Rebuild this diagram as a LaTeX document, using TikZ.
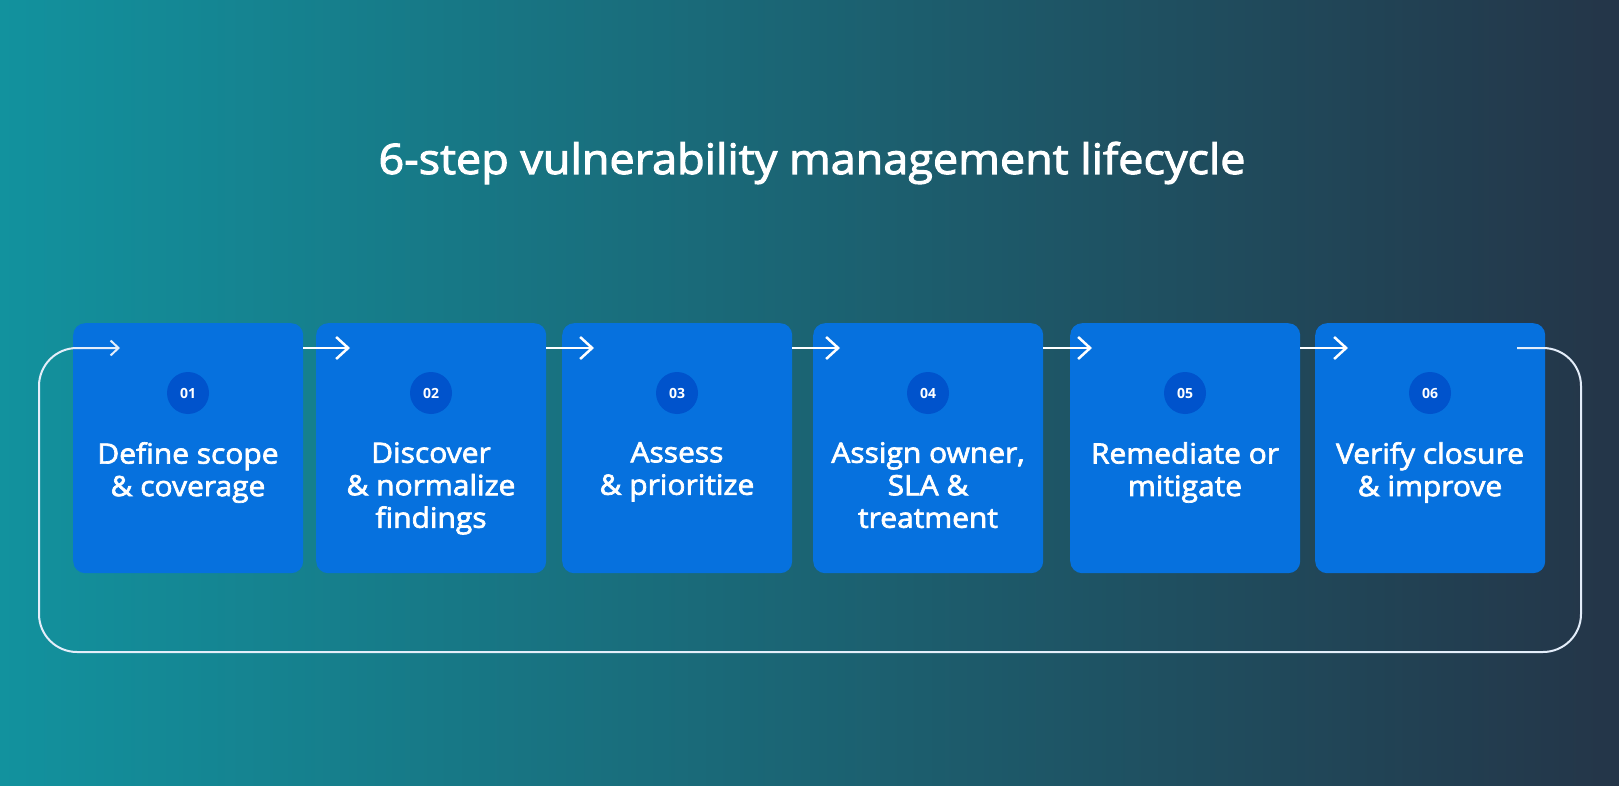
\documentclass[tikz,border=0pt]{standalone}
\usepackage{fontspec}
\setmainfont{Open Sans}
\newfontfamily\stepfont[FakeBold=2.5, FakeStretch=1.07]{Open Sans}
\usetikzlibrary{arrows.meta}

\definecolor{bgteal}{HTML}{12929E}
\definecolor{bgmid}{HTML}{16608A}
\definecolor{bgnavy}{HTML}{243548}
\definecolor{stepblue}{HTML}{0671DE}
\definecolor{badgeblue}{HTML}{0053CC}
\definecolor{cyclecol}{HTML}{E4EEFA}

\tikzset{
  stepbox/.style={fill=stepblue, rounded corners=12pt, minimum width=230pt, minimum height=250pt, inner sep=0pt, anchor=north west},
  badge/.style={circle, fill=badgeblue, minimum size=42pt, inner sep=0pt, text=white, font=\fontsize{14}{14}\selectfont\bfseries},
  steptext/.style={anchor=north, align=center, inner sep=0pt, text=white, font=\stepfont\fontsize{28}{32.5}\selectfont},
  flow/.style={draw=white, line width=2.5pt, -{Straight Barb[length=12pt,width=22pt,line width=2.5pt]}},
  cycleline/.style={draw=cyclecol, line width=2pt, rounded corners=38pt, -{Straight Barb[length=8pt,width=15pt,line width=2pt]}},
}

\begin{document}
\begin{tikzpicture}[x=1pt, y=-1pt]
  \shade[left color=bgteal, middle color=bgmid, right color=bgnavy] (0,0) rectangle (1619,786);

  \node[anchor=base, text=white, inner sep=0pt, font=\stepfont\fontsize{42}{42}\selectfont] (title) at (812,174) {6-step vulnerability management lifecycle};

  \node[stepbox] (s1) at (73,323) {};
  \node[stepbox] (s2) at (316,323) {};
  \node[stepbox] (s3) at (562,323) {};
  \node[stepbox] (s4) at (813,323) {};
  \node[stepbox] (s5) at (1070,323) {};
  \node[stepbox] (s6) at (1315,323) {};

  \node[badge] (b1) at (188,393) {01};
  \node[badge] (b2) at (431,393) {02};
  \node[badge] (b3) at (677,393) {03};
  \node[badge] (b4) at (928,393) {04};
  \node[badge] (b5) at (1185,393) {05};
  \node[badge] (b6) at (1430,393) {06};

  \node[steptext] (t1) at (188,442) {Define scope\\\& coverage};
  \node[steptext] (t2) at (431,442) {Discover\\\& normalize\\findings};
  \node[steptext] (t3) at (677,442) {Assess\\\& prioritize};
  \node[steptext] (t4) at (928,442) {Assign owner,\\SLA \&\\treatment};
  \node[steptext] (t5) at (1185,442) {Remediate or\\mitigate};
  \node[steptext] (t6) at (1430,442) {Verify closure\\\& improve};

  \coordinate (a1) at (120,348);
  \coordinate (a2) at (350,348);
  \coordinate (a3) at (594,348);
  \coordinate (a4) at (840,348);
  \coordinate (a5) at (1092,348);
  \coordinate (a6) at (1348,348);
  \coordinate (back) at (1517,348);

  \draw[flow] (s1.east |- a2) -- (a2);
  \draw[flow] (s2.east |- a3) -- (a3);
  \draw[flow] (s3.east |- a4) -- (a4);
  \draw[flow] (s4.east |- a5) -- (a5);
  \draw[flow] (s5.east |- a6) -- (a6);
  \draw[cycleline] (back) -- (1581,348) -- (1581,652) -- (39,652) -- (39,348) -- (a1);
\end{tikzpicture}
\end{document}
